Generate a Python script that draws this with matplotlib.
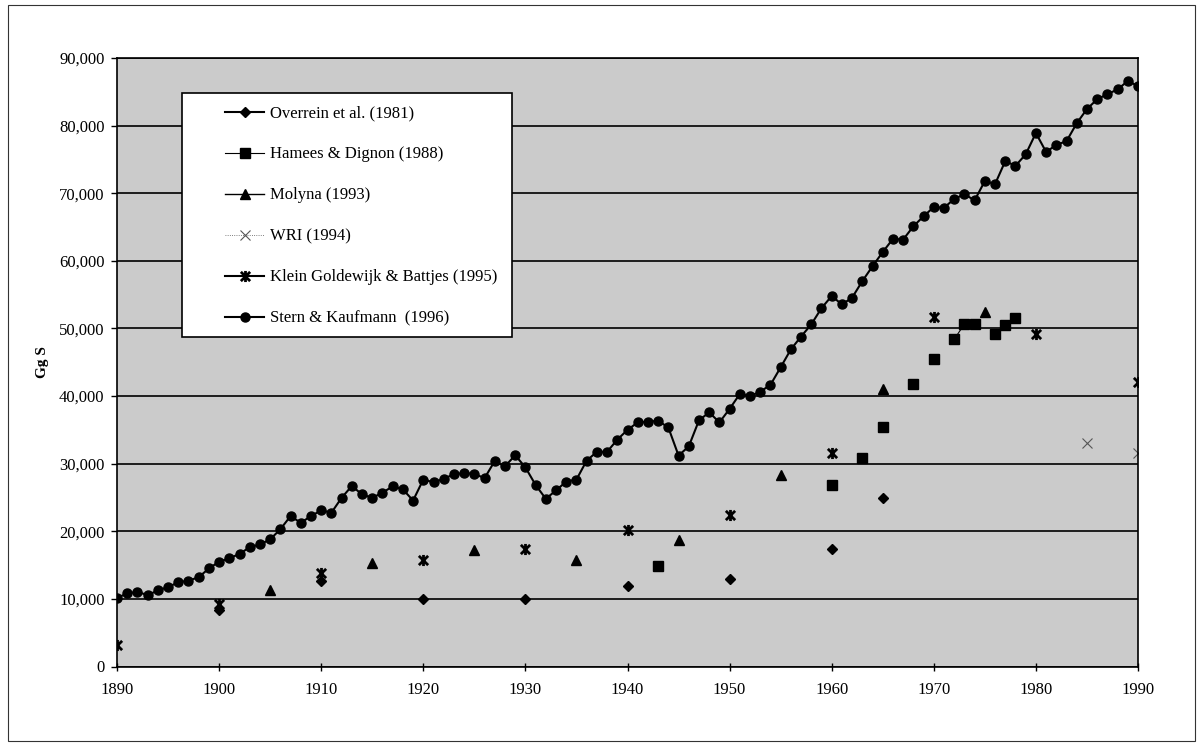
import matplotlib.pyplot as plt
import numpy as np
import pandas as pd
from matplotlib.path import Path
from matplotlib.patches import Rectangle
from matplotlib.ticker import FuncFormatter, MultipleLocator

plt.rcParams["font.family"] = "Liberation Serif"
plt.rcParams["font.size"] = 12

all_years = np.arange(1890, 1991)

overrein_years = [1900, 1910, 1920, 1930, 1940, 1950, 1960, 1965]
overrein = [8400, 12600, 10000, 10000, 11900, 12950, 17400, 24900]

hamees_years = [1943, 1960, 1963, 1965, 1968, 1970, 1972, 1973, 1974,
                1976, 1977, 1978]
hamees = [14850, 26900, 30800, 35400, 41850, 45550, 48400, 50650, 50650,
          49150, 50500, 51500]

molyna_years = [1905, 1915, 1925, 1935, 1945, 1955, 1965, 1975]
molyna = [11250, 15350, 17200, 15750, 18650, 28350, 41000, 52500]

wri_years = [1985, 1990]
wri = [33100, 31600]

klein_years = [1890, 1900, 1910, 1920, 1930, 1940, 1950, 1960, 1970, 1980, 1990]
klein = [3150, 9250, 13850, 15750, 17450, 20150, 22450, 31650, 51650, 49150, 42100]

# Stern & Kaufmann, one value per year 1890-1990
stern = [10150, 10800, 11050, 10550, 11250, 11750, 12450, 12700, 13200, 14500,
         15500, 16000, 16650, 17650, 18050, 18800, 20300, 22250, 21250, 22250,
         23100, 22750, 24950, 26700, 25450, 24950, 25700, 26650, 26200, 24550,
         27650, 27250, 27750, 28450, 28600, 28500, 27850, 30400, 29600, 31250,
         29450, 26850, 24800, 26050, 27350, 27650, 30450, 31750, 31750, 33550,
         35000, 36100, 36200, 36350, 35350, 31200, 32550, 36400, 37600, 36100,
         38100, 40300, 40000, 40650, 41650, 44250, 46900, 48800, 50600, 53000,
         54800, 53550, 54550, 57000, 59200, 61300, 63250, 63150, 65100, 66600,
         67950, 67850, 69150, 69850, 68950, 71800, 71350, 74750, 74050, 75750,
         78900, 76100, 77150, 77700, 80350, 82450, 83900, 84650, 85350, 86600,
         85850]


def full(yrs, vals):
    # gaps between non-consecutive years are left open, like the original
    return pd.Series(vals, index=yrs).reindex(all_years)


star = Path([(-1, -1), (1, 1), (-1, 1), (1, -1), (0, -1.2), (0, 1.2)],
            [Path.MOVETO, Path.LINETO, Path.MOVETO, Path.LINETO,
             Path.MOVETO, Path.LINETO])

fig = plt.figure(figsize=(12.03, 7.46), dpi=100)
ax = fig.add_axes([117 / 1203, 1 - 666.5 / 746, 1021 / 1203, 608.5 / 746])
ax.set_facecolor("#cbcbcb")

ax.plot(all_years, full(overrein_years, overrein), color="black", lw=1.5,
        marker="D", ms=5, label="Overrein et al. (1981)")
ax.plot(all_years, full(hamees_years, hamees), color="black", lw=0.8,
        marker="s", ms=6.5, label="Hamees & Dignon (1988)")
ax.plot(all_years, full(molyna_years, molyna), color="black", lw=1.0,
        marker="^", ms=7, label="Molyna (1993)")
ax.plot(all_years, full(wri_years, wri), color="#555555", lw=0.6, ls=":",
        marker="x", ms=7, mew=0.8, label="WRI (1994)")
ax.plot(all_years, full(klein_years, klein), color="black", lw=1.5,
        marker=star, ms=8, mew=2, label="Klein Goldewijk & Battjes (1995)")
ax.plot(all_years, stern, color="black", lw=1.5, marker="o", ms=6.5,
        label="Stern & Kaufmann  (1996)")

ax.set_xlim(1890, 1990)
ax.set_ylim(0, 90000)
ax.xaxis.set_major_locator(MultipleLocator(10))
ax.yaxis.set_major_locator(MultipleLocator(10000))
ax.yaxis.set_major_formatter(FuncFormatter(lambda v, p: "{:,.0f}".format(v)))
ax.yaxis.grid(True, color="black", lw=1.2)
ax.set_axisbelow(True)
ax.tick_params(axis="x", direction="inout", length=6, width=1, pad=8,
               labelsize=12)
ax.tick_params(axis="y", direction="out", length=4, width=1, pad=5,
               labelsize=12)
for s in ax.spines.values():
    s.set_linewidth(1.2)

ax.set_ylabel("Gg S", fontweight="bold", fontsize=11)
ax.yaxis.set_label_coords(-0.067, 0.5)

box = Rectangle((182 / 1203, 1 - 337 / 746), 330 / 1203, 244 / 746,
                transform=fig.transFigure, facecolor="white",
                edgecolor="black", lw=1.2, zorder=5, clip_on=False)
ax.add_patch(box)
leg = ax.legend(loc="upper left", bbox_to_anchor=(217 / 1203, 1 - 97 / 746),
                bbox_transform=fig.transFigure, frameon=False, borderpad=0,
                handlelength=2.3, handletextpad=0.4, labelspacing=1.5,
                fontsize=12)
leg.set_zorder(6)

fig.patches.append(Rectangle((0.0067, 0.0067), 0.9866, 0.9866, fill=False,
                             lw=0.8, edgecolor="#333333",
                             transform=fig.transFigure, figure=fig))

fig.savefig("out.png", dpi=100)
